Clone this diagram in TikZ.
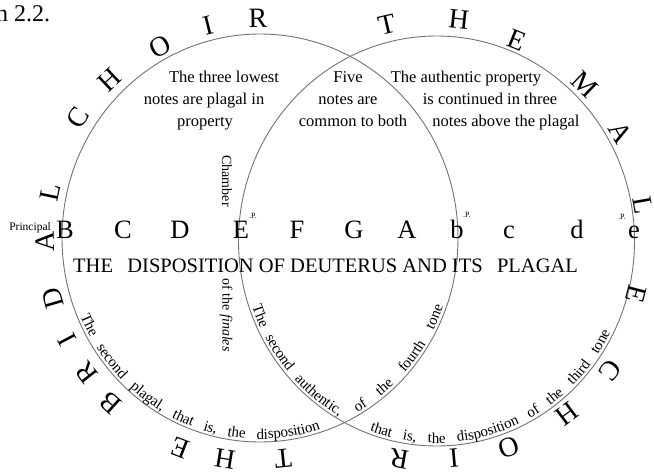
\documentclass[tikz,border=0pt]{standalone}
\usepackage{fontspec}
\setmainfont{Liberation Serif}
\usetikzlibrary{shapes.geometric,decorations.text}
\begin{document}
\begin{tikzpicture}[x=1pt,y=1pt,
  ring/.style={ellipse, draw=black!55, line width=0.9pt, inner sep=0pt},
  bigl/.style={font=\fontsize{28}{28}\selectfont, inner sep=0pt},
  note/.style={font=\fontsize{26.5}{26.5}\selectfont, anchor=base, inner sep=0pt},
  blk/.style={font=\fontsize{16.5}{20}\selectfont, anchor=base, inner sep=0pt},
  tinyp/.style={font=\fontsize{8}{8}\selectfont, inner sep=0pt},
  side/.style={font=\fontsize{14}{14}\selectfont, rotate=-90, inner sep=0pt},
  arctext/.style={decorate, decoration={text along path, raise=3pt,
     text align={fit to path stretching spaces},
     text={|\fontsize{15}{15}\selectfont|#1}}}
]
\useasboundingbox (0,0) rectangle (654,-474);
\coordinate (L) at (260,-238);
\coordinate (R) at (436.5,-241);
\node[ring, minimum width=396pt, minimum height=408pt] (lc) at (L) {};
\node[ring, minimum width=396pt, minimum height=410pt] (rc) at (R) {};

% THE BRIDAL CHOIR
\foreach \a/\x/\y/\t [count=\i] in {276/283/459/T,261/225/459/H,249/180/448/E,
    228/110/403/B,218/87/373/R,208/67/340/I,196/53/298/D,181/45/242/A,168/50/192/L,
    147/78/118/C,133.5/110/80/H,118/160/47/O,104/208/25/I,90.5/258/18/R}
  \node[bigl, rotate=\a-90] (bl\i) at (\x,-\y) {\t};
% THE MALE CHOIR
\foreach \a/\x/\y/\t [count=\i] in {103/387/25/T,84/459/19/H,68/517/40/E,46/585/85/M,
    30/621/133/A,10/643/205/L,-14.5/636/294/E,-36.5/610/370/C,-53/567/414/H,
    -71/509/447/O,-85/454/458/I,-100/399/459/R}
  \node[bigl, rotate=\a-90] (br\i) at (\x,-\y) {\t};

% note row
\foreach \x/\t [count=\i] in {65/B,123/C,180/D,241/E,297/F,354/G,407/A,457/b,509/c,577/d,634/e}
  \node[note] (n\i) at (\x,-238) {\t};
\node[tinyp] (p1) at (253,-216) {.P.};
\node[tinyp] (p2) at (467,-215) {.P.};
\node[tinyp] (p3) at (622,-217) {.P.};
\node[font=\fontsize{11.5}{11.5}\selectfont, anchor=base east, inner sep=0pt] (prin) at (51,-230) {Principal};

\node[font=\fontsize{20.5}{20.5}\selectfont, anchor=base west, inner sep=0pt] (title) at (73,-272)
  {THE\hspace{0.7em}DISPOSITION OF DEUTERUS AND ITS\hspace{0.7em}PLAGAL};

\node[side] (ch) at (227,-181) {Chamber};
\node[side] (fin) at (226,-315) {of the \textit{finales}};

\node[blk] (a1) at (224,-82) {The three lowest};
\node[blk] (a2) at (204,-104) {notes are plagal in};
\node[blk] (a3) at (205,-126) {property};
\node[blk] (b1) at (348,-82) {Five};
\node[blk] (b2) at (348,-104) {notes are};
\node[blk] (b3) at (353,-126) {common to both};
\node[blk] (c1) at (466,-82) {The authentic property};
\node[blk] (c2) at (490,-104) {is continued in three};
\node[blk] (c3) at (506,-126) {notes above the plagal};

\node[font=\fontsize{24}{24}\selectfont, anchor=base west, inner sep=0pt] (cap) at (-4,-21) {n 2.2.};

\path[arctext={The second plagal, that is, the disposition}]
  ([shift={(203:198 and 204)}]L) arc[start angle=203, end angle=288, x radius=198, y radius=204];
\path[arctext={that is, the disposition of the third tone}]
  ([shift={(250:198 and 205)}]R) arc[start angle=250, end angle=333, x radius=198, y radius=205];
\path[arctext={The second authentic,}]
  ([shift={(199:198 and 205)}]R) arc[start angle=199, end angle=240, x radius=198, y radius=205];
\path[arctext={of the fourth tone}]
  ([shift={(300:198 and 204)}]L) arc[start angle=300, end angle=340, x radius=198, y radius=204];
\end{tikzpicture}
\end{document}
